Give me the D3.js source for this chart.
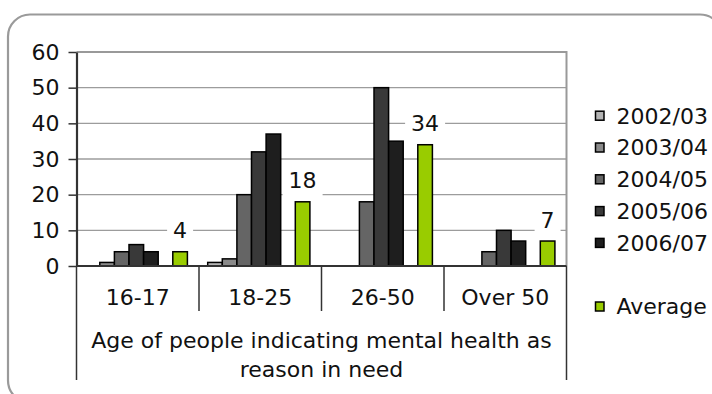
<!DOCTYPE html>
<html>
<head>
<meta charset="utf-8">
<script src="https://cdn.jsdelivr.net/npm/d3@7"></script>
<style>
  html, body { margin: 0; padding: 0; background: #ffffff; }
  svg { display: block; }
  text { font-family: "DejaVu Sans", Verdana, sans-serif; fill: #111; }
</style>
</head>
<body>
<script>
// Age groups along the x axis
const categories = ["16-17", "18-25", "26-50", "Over 50"];

// Yearly counts per age group
const seriesNames = ["2002/03", "2003/04", "2004/05", "2005/06", "2006/07"];
const values0203 = [0, 1, 0, 0];
const values0304 = [1, 2, 0, 0];
const values0405 = [4, 20, 18, 4];
const values0506 = [6, 32, 50, 10];
const values0607 = [4, 37, 35, 7];

// Average across the years (labelled on the chart)
const averageName = "Average";
const averageValues = [4, 18, 34, 7];

const yTicks = [0, 10, 20, 30, 40, 50, 60];
const axisTitleLines = ["Age of people indicating mental health as", "reason in need"];

const seriesColors = ["#b4b4b4", "#8a8a8a", "#656565", "#393939", "#1e1e1e"];
const averageColor = "#99cc00";

// Slots per category: five years, an empty slot, then the average
const slotKeys = [...seriesNames, "blank", averageName];
const seriesValues = [values0203, values0304, values0405, values0506, values0607];
const series = seriesNames.map((name, i) => ({ name, values: seriesValues[i], color: seriesColors[i] }));
series.push({ name: averageName, values: averageValues, color: averageColor, labelled: true });

const W = 712, H = 394;
const plot = { left: 76.5, right: 566.5, top: 52, bottom: 266 };

const svg = d3.select("body").append("svg").attr("width", W).attr("height", H);

// Rounded outer frame
svg.append("rect")
  .attr("x", 8).attr("y", 14.5)
  .attr("width", 714).attr("height", 388)
  .attr("rx", 22).attr("ry", 22)
  .attr("fill", "#fff").attr("stroke", "#9a9a9a").attr("stroke-width", 2.2);

const y = d3.scaleLinear().domain([0, 60]).range([plot.bottom, plot.top]);
const x0 = d3.scaleBand().domain(categories).range([plot.left, plot.right]);
const x1 = d3.scaleBand().domain(slotKeys).range([8.7, 8.7 + 102.2]);

// Horizontal gridlines
svg.append("g").selectAll("line")
  .data(yTicks.filter(t => t > 0 && t < 60))
  .join("line")
  .attr("x1", plot.left).attr("x2", plot.right)
  .attr("y1", d => y(d)).attr("y2", d => y(d))
  .attr("stroke", "#9c9c9c").attr("stroke-width", 1.3);

// Plot area top and right border
svg.append("path")
  .attr("d", `M${plot.left},${y(60)}H${plot.right}V${plot.bottom}`)
  .attr("fill", "none").attr("stroke", "#999").attr("stroke-width", 2);

// Bars
const barG = svg.append("g");
series.forEach(s => {
  barG.append("g").selectAll("rect")
    .data(categories.map((c, j) => ({ c, v: s.values[j] })).filter(d => d.v > 0))
    .join("rect")
    .attr("x", d => x0(d.c) + x1(s.name))
    .attr("width", x1.bandwidth())
    .attr("y", d => y(d.v))
    .attr("height", d => y(0) - y(d.v))
    .attr("fill", s.color)
    .attr("stroke", "#000").attr("stroke-width", 1.5);
});

// Value labels on the average bars, with a white backing box
const avg = series.find(s => s.labelled);
categories.forEach((c, j) => {
  const v = avg.values[j];
  const g = svg.append("g");
  const t = g.append("text")
    .attr("x", x0(c) + x1(avg.name) + x1.bandwidth() / 2)
    .attr("y", y(v) - 13.5)
    .attr("text-anchor", "middle")
    .attr("font-size", 22)
    .text(d3.format("d")(v));
  const b = t.node().getBBox();
  g.insert("rect", "text")
    .attr("x", b.x - 6).attr("y", b.y - 7)
    .attr("width", b.width + 12).attr("height", b.height + 10.5)
    .attr("fill", "#fff");
});

// Y axis
const yAxis = svg.append("g")
  .attr("transform", `translate(${plot.left},0)`)
  .call(d3.axisLeft(y).tickValues(yTicks).tickSize(8).tickSizeOuter(0).tickPadding(9).tickFormat(d3.format("d")));
yAxis.select(".domain").attr("stroke", "#333").attr("stroke-width", 2.2);
yAxis.selectAll(".tick line").attr("stroke", "#333").attr("stroke-width", 1.5);
yAxis.selectAll(".tick text").attr("font-size", 22).attr("font-family", "DejaVu Sans, Verdana, sans-serif").attr("fill", "#111");

// X axis baseline and category dividers
const xg = svg.append("g");
xg.append("line")
  .attr("x1", plot.left).attr("x2", plot.right)
  .attr("y1", y(0)).attr("y2", y(0))
  .attr("stroke", "#333").attr("stroke-width", 2.2);
const edges = categories.map(c => x0(c)).concat([plot.right]);
xg.selectAll("line.div")
  .data(edges)
  .join("line").attr("class", "div")
  .attr("x1", d => d).attr("x2", d => d)
  .attr("y1", y(0))
  .attr("y2", (d, i) => (i === 0 || i === edges.length - 1) ? 380 : 311)
  .attr("stroke", "#333").attr("stroke-width", 1.5);

// Category labels
xg.selectAll("text.cat")
  .data(categories)
  .join("text").attr("class", "cat")
  .attr("x", c => x0(c) + x0.bandwidth() / 2)
  .attr("y", 305)
  .attr("text-anchor", "middle")
  .attr("font-size", 22)
  .text(c => c);

// Axis title
const cx = (plot.left + plot.right) / 2;
svg.append("g").selectAll("text")
  .data(axisTitleLines)
  .join("text")
  .attr("x", cx)
  .attr("y", (d, i) => 348.3 + i * 28.4)
  .attr("text-anchor", "middle")
  .attr("font-size", 22)
  .text(d => d);

// Legend
const legend = svg.append("g");
const legendItems = slotKeys.map((k, i) => ({ k, i, s: series.find(s => s.name === k) })).filter(d => d.s);
const legendY = i => 115.7 + i * 31.8;
legend.selectAll("rect")
  .data(legendItems)
  .join("rect")
  .attr("x", 595.5).attr("y", d => legendY(d.i) - 4.5)
  .attr("width", 8.5).attr("height", 9)
  .attr("fill", d => d.s.color)
  .attr("stroke", "#000").attr("stroke-width", 1.5);
legend.selectAll("text")
  .data(legendItems)
  .join("text")
  .attr("x", 616.5).attr("y", d => legendY(d.i))
  .attr("dy", "0.36em")
  .attr("font-size", 22)
  .text(d => d.k);
</script>
</body>
</html>
